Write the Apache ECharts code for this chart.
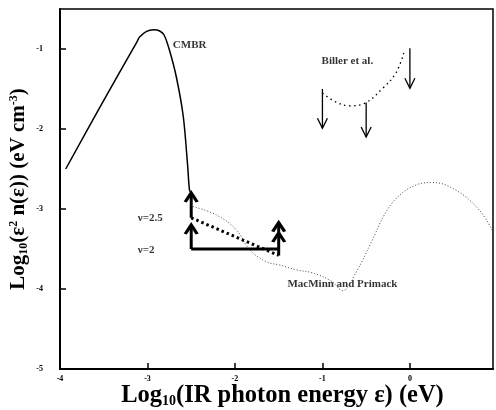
<!DOCTYPE html>
<html>
<head>
<meta charset="utf-8">
<script src="https://cdn.jsdelivr.net/npm/echarts@6/dist/echarts.min.js"></script>
<style>
html, body { margin: 0; background: #fff; }
#chart { width: 496px; height: 410px; }
</style>
</head>
<body>
<div id="chart"></div>
<script>
// log10 energy (eV), log10 energy density
var cmbr = [
    [-3.935, -2.50], [-3.54, -1.72], [-3.12, -0.91], [-3.09, -0.85], [-3.01, -0.78],
    [-2.93, -0.76], [-2.86, -0.775], [-2.81, -0.825], [-2.75, -1.01], [-2.67, -1.35],
    [-2.59, -1.85], [-2.54, -2.47], [-2.52, -2.76], [-2.5, -2.8]
];
var macminn = [
    [-2.48, -2.97], [-2.21, -3.075], [-1.985, -3.26], [-1.83, -3.51], [-1.64, -3.66],
    [-1.49, -3.70], [-1.30, -3.76], [-1.11, -3.80], [-0.90, -3.90], [-0.77, -4.02],
    [-0.62, -3.80], [-0.43, -3.39], [-0.28, -3.05], [-0.12, -2.83], [0.07, -2.70],
    [0.26, -2.67], [0.52, -2.76], [0.79, -3.01], [0.95, -3.28]
];
var billierCurve = [
    [-1.0, -1.55], [-0.85, -1.66], [-0.69, -1.71], [-0.52, -1.68], [-0.31, -1.49],
    [-0.16, -1.30], [-0.07, -1.05]
];
var nu25 = [[-2.5, -3.11], [-1.5, -3.58]];
var nu2 = [[-2.5, -3.5], [-1.5, -3.5]];

// upper limits: x, start, arrow tip
var billierX = [-1, -0.5, 0];
var billierFrom = [-1.5, -1.67, -0.99];
var billierTo = [-1.99, -2.1, -1.49];

// lower limits: x, start, arrow heads
var limitX = [-2.5, -2.5, -1.5];
var limitFrom = [-3.11, -3.5, -3.58];
var limitHeads = [[-2.8], [-3.2], [-3.3, -3.17]];

var notes = [
    { name: 'CMBR', x: -2.71, y: -0.95 },
    { name: 'Biller et al.', x: -1.01, y: -1.15 },
    { name: 'MacMinn and Primack', x: -1.40, y: -3.94 },
    { name: 'ν=2.5', x: -3.11, y: -3.11 },
    { name: 'ν=2', x: -3.11, y: -3.51 }
];

var serif = '"Liberation Serif", "DejaVu Serif", serif';
var upHead = 'path://M0,10 L6,0 L12,10';
var downHead = 'path://M0,0 L6,10 L12,0';

function arrowSeries(x, from, heads, down) {
    var data = [{ value: [x, from], symbol: 'none' }];
    heads.forEach(function (h) {
        data.push({ value: [x, h], symbol: down ? downHead : upHead });
    });
    return {
        type: 'line',
        data: data,
        showSymbol: true,
        showAllSymbol: true,
        symbolSize: down ? [10, 10] : [12, 9],
        symbolOffset: down ? [0, -5] : [0, 4.5],
        itemStyle: { color: 'rgba(0,0,0,0)', borderColor: '#000', borderWidth: down ? 1.3 : 3 },
        lineStyle: { color: '#000', width: down ? 1.3 : 3 },
        silent: true,
        z: 4
    };
}

var series = [
    {
        type: 'line', data: cmbr, showSymbol: false, smooth: 0.3,
        lineStyle: { color: '#000', width: 1.5 }
    },
    {
        type: 'line', data: macminn, showSymbol: false, smooth: 0.4,
        lineStyle: { color: '#444', width: 1, type: [1, 2] }
    },
    {
        type: 'line', data: billierCurve, showSymbol: false, smooth: 0.4,
        lineStyle: { color: '#000', width: 1.3, type: [1.5, 3.5] }
    },
    {
        type: 'line', data: nu25, showSymbol: false,
        lineStyle: { color: '#000', width: 3, type: [2.5, 3] }
    },
    {
        type: 'line', data: nu2, showSymbol: false,
        lineStyle: { color: '#000', width: 3 }
    },
    {
        type: 'scatter', symbolSize: 0, silent: true,
        data: notes.map(function (n) { return { name: n.name, value: [n.x, n.y] }; }),
        label: {
            show: true, position: 'right', distance: 0, formatter: '{b}',
            fontFamily: serif, fontWeight: 'bold', fontSize: 11, color: '#000'
        }
    }
];
for (var i = 0; i < billierX.length; i++) {
    series.push(arrowSeries(billierX[i], billierFrom[i], [billierTo[i]], true));
}
for (var j = 0; j < limitX.length; j++) {
    series.push(arrowSeries(limitX[j], limitFrom[j], limitHeads[j], false));
}

var tickLabel = { fontFamily: serif, fontWeight: 'bold', fontSize: 8, color: '#000' };

var option = {
    animation: false,
    backgroundColor: '#fff',
    grid: {
        left: 60, top: 9, right: 3, bottom: 41, outerBoundsMode: 'none',
        show: true, borderColor: '#000', borderWidth: 1.5
    },
    xAxis: {
        type: 'value', min: -4, max: 0.95, interval: 1,
        axisLine: { onZero: false, lineStyle: { color: '#000', width: 2 } },
        axisTick: { inside: true, length: 6, lineStyle: { color: '#000', width: 1.5 } },
        axisLabel: Object.assign({ margin: 6, showMaxLabel: false }, tickLabel),
        splitLine: { show: false },
        name: 'Log{sub|10}(IR photon energy ε) (eV)',
        nameLocation: 'middle', nameGap: 14, nameMoveOverlap: false,
        nameTextStyle: {
            fontFamily: serif, fontWeight: 'bold', fontSize: 24.5, color: '#000', padding: [0, 0, 0, 12],
            rich: { sub: { fontFamily: serif, fontWeight: 'bold', fontSize: 14, color: '#000', padding: [11, 0, 0, 0] } }
        }
    },
    yAxis: {
        type: 'value', min: -5, max: -0.5, interval: 1,
        axisLine: { onZero: false, lineStyle: { color: '#000', width: 2 } },
        axisTick: { inside: true, length: 6, lineStyle: { color: '#000', width: 1.5 } },
        axisLabel: Object.assign({ margin: 17, showMaxLabel: false }, tickLabel),
        splitLine: { show: false },
        name: 'Log{sub|10}(ε{sup|2} n(ε)) (eV cm{sup|-3})',
        nameLocation: 'middle', nameGap: 30, nameMoveOverlap: false,
        nameTextStyle: {
            fontFamily: serif, fontWeight: 'bold', fontSize: 21, color: '#000', padding: [21, 0, 0, 0],
            rich: {
                sub: { fontFamily: serif, fontWeight: 'bold', fontSize: 12, color: '#000', padding: [10, 0, 0, 0] },
                sup: { fontFamily: serif, fontWeight: 'bold', fontSize: 12, color: '#000', padding: [0, 0, 10, 0] }
            }
        }
    },
    series: series
};

var chart = echarts.init(document.getElementById('chart'));
chart.setOption(option);
</script>
</body>
</html>
